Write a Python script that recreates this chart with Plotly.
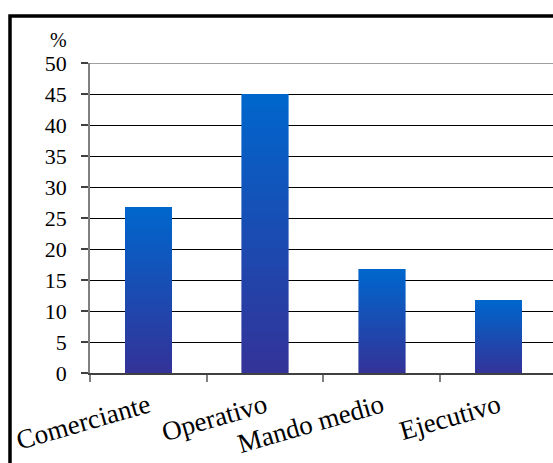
import plotly.graph_objects as go

categorias = ["Comerciante", "Operativo", "Mando medio", "Ejecutivo"]
porcentajes = [26.7, 45.0, 16.7, 11.7]
ticks_y = [0, 5, 10, 15, 20, 25, 30, 35, 40, 45, 50]

# degradado vertical de cada barra: azul claro arriba, azul marino abajo
color_arriba = (0, 102, 204)
color_abajo = (51, 51, 153)
n_tramos = 40

fig = go.Figure()
for i in range(n_tramos):
    f = i / (n_tramos - 1)
    c = tuple(round(a + (b - a) * f) for a, b in zip(color_abajo, color_arriba))
    fig.add_trace(go.Bar(
        x=categorias,
        y=[v / n_tramos for v in porcentajes],
        marker=dict(color=f"rgb{c}", line=dict(width=0.6, color=f"rgb{c}")),
        width=0.4,
        showlegend=False,
        hoverinfo="skip",
    ))

# línea superior gris del área de trazado
fig.add_shape(type="line", xref="paper", yref="y", x0=0, x1=1, y0=50, y1=50,
              line=dict(color="#808080", width=1.5), layer="above")
# marco negro del gráfico
fig.add_shape(type="rect", xref="paper", yref="paper",
              x0=-0.1728, x1=1.2, y0=-0.6, y1=1.1516,
              line=dict(color="black", width=3.5), layer="above")

fig.add_annotation(text="%", xref="paper", yref="paper", x=-0.069, y=1.074,
                   xanchor="center", yanchor="middle",
                   showarrow=False, font=dict(size=20, color="black"))

fig.update_layout(
    width=553, height=463,
    margin=dict(l=90, r=0, t=63, b=90),
    paper_bgcolor="white", plot_bgcolor="white",
    barmode="stack", bargap=0.6,
    font=dict(family="Liberation Serif, Times New Roman, serif", color="black"),
)
fig.update_xaxes(
    type="category", range=[-0.5, 3.466], automargin=False,
    tickson="boundaries", ticks="outside", ticklen=7, tickcolor="#808080", tickwidth=1.5,
    showline=True, linecolor="#404040", linewidth=1.5,
    tickangle=-16, tickfont=dict(size=27, color="black"), ticklabelstandoff=5,
    showgrid=False,
)
fig.update_yaxes(
    range=[0, 50], tickvals=ticks_y, automargin=False,
    ticks="outside", ticklen=7, tickcolor="#404040", tickwidth=1.5,
    showline=True, linecolor="#808080", linewidth=1.5,
    showgrid=True, gridcolor="black", gridwidth=1,
    tickfont=dict(size=22, color="black"), ticklabelstandoff=10,
    zeroline=False,
)

# sin margen en el body para que la figura ocupe toda la ventana
fig.write_html("out.html", config={"displayModeBar": False},
               post_script="document.body.style.margin='0';")
